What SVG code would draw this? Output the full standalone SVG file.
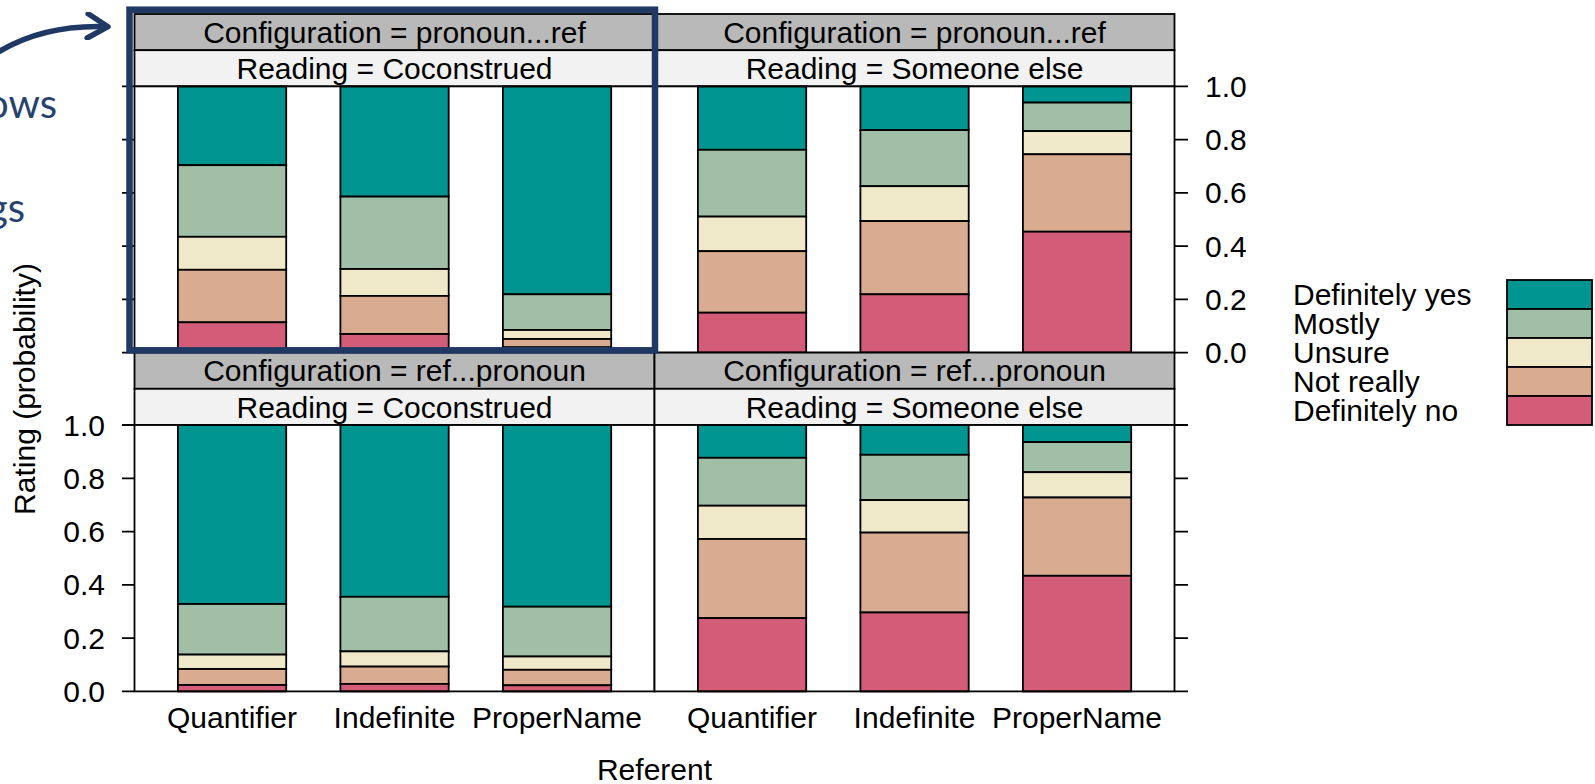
<svg xmlns="http://www.w3.org/2000/svg" width="1595" height="784" viewBox="0 0 1595 784">
  <style>
    text { font-family: "Liberation Sans", Arial, sans-serif; font-size: 30px; fill: #000; }
    .mid { text-anchor: middle; }
    .end { text-anchor: end; }
    .s1 { fill: #B9B9B9; stroke: #000; stroke-width: 1.8; }
    .s2 { fill: #F2F2F2; stroke: #000; stroke-width: 1.8; }
    .plotbg { fill: #FFFFFF; }
    .plotbox { fill: none; stroke: #000; stroke-width: 1.8; }
    .tick { stroke: #000; stroke-width: 1.8; }
    .bar rect { stroke: #000; stroke-width: 1.8; }
    .dy { fill: #009590; }
    .mo { fill: #A1BEA6; }
    .un { fill: #EFE8C9; }
    .nr { fill: #D9AB91; }
    .dn { fill: #D35C78; }
    .note { font-family: Lato, "Open Sans", sans-serif; font-size: 40px; fill: #26426F; }
  </style>
  <defs>
    <marker id="chev" viewBox="0 0 10 10" refX="8.6" refY="5" markerWidth="5" markerHeight="5" markerUnits="strokeWidth" orient="auto">
      <path d="M1.2,0.6 L8.6,5 L1.2,9.4" fill="none" stroke="#1F3864" stroke-width="2" stroke-linecap="round" stroke-linejoin="round"/>
    </marker>
  </defs>

  <!-- slide text partly visible at the left edge -->
  <g id="slide-text">
    <text class="note end" x="57" y="118">ows</text>
    <text class="note end" x="25" y="222">gs</text>
  </g>

  <!-- panel: pronoun...ref / Coconstrued -->
  <g id="panel-top-left">
    <rect class="s1" x="134.5" y="14" width="520" height="36.2"/>
    <text class="mid" x="394.5" y="42.7">Configuration = pronoun...ref</text>
    <rect class="s2" x="134.5" y="50.2" width="520" height="36.2"/>
    <text class="mid" x="394.5" y="79.3">Reading = Coconstrued</text>
    <rect class="plotbg" x="134.5" y="86.4" width="520" height="266.2"/>
    <g class="bar">
      <rect class="dy" x="177.9" y="86.4" width="108.3" height="78.8"/>
      <rect class="mo" x="177.9" y="165.2" width="108.3" height="71.6"/>
      <rect class="un" x="177.9" y="236.8" width="108.3" height="33.0"/>
      <rect class="nr" x="177.9" y="269.8" width="108.3" height="52.5"/>
      <rect class="dn" x="177.9" y="322.3" width="108.3" height="30.3"/>
    </g>
    <g class="bar">
      <rect class="dy" x="340.4" y="86.4" width="108.3" height="110.2"/>
      <rect class="mo" x="340.4" y="196.6" width="108.3" height="72.4"/>
      <rect class="un" x="340.4" y="269.0" width="108.3" height="26.9"/>
      <rect class="nr" x="340.4" y="295.9" width="108.3" height="38.1"/>
      <rect class="dn" x="340.4" y="334.0" width="108.3" height="18.6"/>
    </g>
    <g class="bar">
      <rect class="dy" x="502.9" y="86.4" width="108.3" height="207.9"/>
      <rect class="mo" x="502.9" y="294.3" width="108.3" height="35.7"/>
      <rect class="un" x="502.9" y="330.0" width="108.3" height="9.0"/>
      <rect class="nr" x="502.9" y="339.0" width="108.3" height="8.3"/>
      <rect class="dn" x="502.9" y="347.3" width="108.3" height="5.3"/>
    </g>
    <rect class="plotbox" x="134.5" y="86.4" width="520" height="266.2"/>
  </g>

  <!-- panel: pronoun...ref / Someone else -->
  <g id="panel-top-right">
    <rect class="s1" x="654.5" y="14" width="520" height="36.2"/>
    <text class="mid" x="914.5" y="42.7">Configuration = pronoun...ref</text>
    <rect class="s2" x="654.5" y="50.2" width="520" height="36.2"/>
    <text class="mid" x="914.5" y="79.3">Reading = Someone else</text>
    <rect class="plotbg" x="654.5" y="86.4" width="520" height="266.2"/>
    <g class="bar">
      <rect class="dy" x="697.9" y="86.4" width="108.3" height="63.4"/>
      <rect class="mo" x="697.9" y="149.8" width="108.3" height="66.8"/>
      <rect class="un" x="697.9" y="216.6" width="108.3" height="34.6"/>
      <rect class="nr" x="697.9" y="251.2" width="108.3" height="61.5"/>
      <rect class="dn" x="697.9" y="312.7" width="108.3" height="39.9"/>
    </g>
    <g class="bar">
      <rect class="dy" x="860.4" y="86.4" width="108.3" height="43.7"/>
      <rect class="mo" x="860.4" y="130.1" width="108.3" height="56.1"/>
      <rect class="un" x="860.4" y="186.2" width="108.3" height="34.9"/>
      <rect class="nr" x="860.4" y="221.1" width="108.3" height="73.2"/>
      <rect class="dn" x="860.4" y="294.3" width="108.3" height="58.3"/>
    </g>
    <g class="bar">
      <rect class="dy" x="1022.9" y="86.4" width="108.3" height="16.2"/>
      <rect class="mo" x="1022.9" y="102.6" width="108.3" height="28.5"/>
      <rect class="un" x="1022.9" y="131.1" width="108.3" height="23.2"/>
      <rect class="nr" x="1022.9" y="154.3" width="108.3" height="77.4"/>
      <rect class="dn" x="1022.9" y="231.7" width="108.3" height="120.9"/>
    </g>
    <rect class="plotbox" x="654.5" y="86.4" width="520" height="266.2"/>
  </g>

  <!-- panel: ref...pronoun / Coconstrued -->
  <g id="panel-bottom-left">
    <rect class="s1" x="134.5" y="352.6" width="520" height="36.2"/>
    <text class="mid" x="394.5" y="381.3">Configuration = ref...pronoun</text>
    <rect class="s2" x="134.5" y="388.8" width="520" height="36.2"/>
    <text class="mid" x="394.5" y="417.9">Reading = Coconstrued</text>
    <rect class="plotbg" x="134.5" y="425" width="520" height="266.4"/>
    <g class="bar">
      <rect class="dy" x="177.9" y="425" width="108.3" height="179.0"/>
      <rect class="mo" x="177.9" y="604.0" width="108.3" height="50.6"/>
      <rect class="un" x="177.9" y="654.6" width="108.3" height="14.4"/>
      <rect class="nr" x="177.9" y="669.0" width="108.3" height="16.0"/>
      <rect class="dn" x="177.9" y="685.0" width="108.3" height="6.4"/>
    </g>
    <g class="bar">
      <rect class="dy" x="340.4" y="425" width="108.3" height="171.8"/>
      <rect class="mo" x="340.4" y="596.8" width="108.3" height="54.6"/>
      <rect class="un" x="340.4" y="651.4" width="108.3" height="15.2"/>
      <rect class="nr" x="340.4" y="666.6" width="108.3" height="17.3"/>
      <rect class="dn" x="340.4" y="683.9" width="108.3" height="7.5"/>
    </g>
    <g class="bar">
      <rect class="dy" x="502.9" y="425" width="108.3" height="181.7"/>
      <rect class="mo" x="502.9" y="606.7" width="108.3" height="49.8"/>
      <rect class="un" x="502.9" y="656.5" width="108.3" height="13.3"/>
      <rect class="nr" x="502.9" y="669.8" width="108.3" height="15.5"/>
      <rect class="dn" x="502.9" y="685.3" width="108.3" height="6.1"/>
    </g>
    <rect class="plotbox" x="134.5" y="425" width="520" height="266.4"/>
  </g>

  <!-- panel: ref...pronoun / Someone else -->
  <g id="panel-bottom-right">
    <rect class="s1" x="654.5" y="352.6" width="520" height="36.2"/>
    <text class="mid" x="914.5" y="381.3">Configuration = ref...pronoun</text>
    <rect class="s2" x="654.5" y="388.8" width="520" height="36.2"/>
    <text class="mid" x="914.5" y="417.9">Reading = Someone else</text>
    <rect class="plotbg" x="654.5" y="425" width="520" height="266.4"/>
    <g class="bar">
      <rect class="dy" x="697.9" y="425" width="108.3" height="32.8"/>
      <rect class="mo" x="697.9" y="457.8" width="108.3" height="47.9"/>
      <rect class="un" x="697.9" y="505.7" width="108.3" height="33.3"/>
      <rect class="nr" x="697.9" y="539.0" width="108.3" height="79.1"/>
      <rect class="dn" x="697.9" y="618.1" width="108.3" height="73.3"/>
    </g>
    <g class="bar">
      <rect class="dy" x="860.4" y="425" width="108.3" height="29.8"/>
      <rect class="mo" x="860.4" y="454.8" width="108.3" height="45.3"/>
      <rect class="un" x="860.4" y="500.1" width="108.3" height="32.5"/>
      <rect class="nr" x="860.4" y="532.6" width="108.3" height="79.9"/>
      <rect class="dn" x="860.4" y="612.5" width="108.3" height="78.9"/>
    </g>
    <g class="bar">
      <rect class="dy" x="1022.9" y="425" width="108.3" height="17.1"/>
      <rect class="mo" x="1022.9" y="442.1" width="108.3" height="30.1"/>
      <rect class="un" x="1022.9" y="472.2" width="108.3" height="25.3"/>
      <rect class="nr" x="1022.9" y="497.5" width="108.3" height="78.3"/>
      <rect class="dn" x="1022.9" y="575.8" width="108.3" height="115.6"/>
    </g>
    <rect class="plotbox" x="654.5" y="425" width="520" height="266.4"/>
  </g>

  <!-- y axes -->
  <g id="axis-left">
    <path class="tick" d="M122,86.4H134.5M122,139.6H134.5M122,192.9H134.5M122,246.1H134.5M122,299.4H134.5M122,352.6H134.5"/>
    <path class="tick" d="M122,425H134.5M122,478.3H134.5M122,531.6H134.5M122,584.8H134.5M122,638.1H134.5M122,691.4H134.5"/>
    <text class="end" x="105" y="435.5">1.0</text>
    <text class="end" x="105" y="488.8">0.8</text>
    <text class="end" x="105" y="542.1">0.6</text>
    <text class="end" x="105" y="595.3">0.4</text>
    <text class="end" x="105" y="648.6">0.2</text>
    <text class="end" x="105" y="701.9">0.0</text>
  </g>
  <g id="axis-right">
    <path class="tick" d="M1174.5,86.4H1188M1174.5,139.6H1188M1174.5,192.9H1188M1174.5,246.1H1188M1174.5,299.4H1188M1174.5,352.6H1188"/>
    <path class="tick" d="M1174.5,425H1188M1174.5,478.3H1188M1174.5,531.6H1188M1174.5,584.8H1188M1174.5,638.1H1188M1174.5,691.4H1188"/>
    <text x="1205" y="96.9">1.0</text>
    <text x="1205" y="150.1">0.8</text>
    <text x="1205" y="203.4">0.6</text>
    <text x="1205" y="256.6">0.4</text>
    <text x="1205" y="309.9">0.2</text>
    <text x="1205" y="363.1">0.0</text>
  </g>
  <text id="ylab" class="mid" transform="translate(35,389) rotate(-90)">Rating (probability)</text>

  <!-- x axis -->
  <g id="axis-bottom">
    <text class="mid" x="232" y="728">Quantifier</text>
    <text class="mid" x="394.5" y="728">Indefinite</text>
    <text class="mid" x="557" y="728">ProperName</text>
    <text class="mid" x="752" y="728">Quantifier</text>
    <text class="mid" x="914.5" y="728">Indefinite</text>
    <text class="mid" x="1077" y="728">ProperName</text>
    <text class="mid" x="654.5" y="780">Referent</text>
  </g>

  <!-- key -->
  <g id="legend">
    <text x="1293" y="305">Definitely yes</text>
    <text x="1293" y="334">Mostly</text>
    <text x="1293" y="363">Unsure</text>
    <text x="1293" y="392">Not really</text>
    <text x="1293" y="421">Definitely no</text>
    <g class="bar">
      <rect class="dy" x="1507" y="280" width="85" height="29"/>
      <rect class="mo" x="1507" y="309" width="85" height="29"/>
      <rect class="un" x="1507" y="338" width="85" height="29"/>
      <rect class="nr" x="1507" y="367" width="85" height="29"/>
      <rect class="dn" x="1507" y="396" width="85" height="29"/>
    </g>
  </g>

  <!-- highlight frame and pointer -->
  <g id="highlight">
    <rect x="129.5" y="9.7" width="525.5" height="340.6" fill="none" stroke="#1F3864" stroke-width="6.5"/>
  </g>
  <g id="connectors">
    <path d="M-8,56 Q40,24 108,26.7" fill="none" stroke="#1F3864" stroke-width="5.5" marker-end="url(#chev)"/>
  </g>
</svg>
